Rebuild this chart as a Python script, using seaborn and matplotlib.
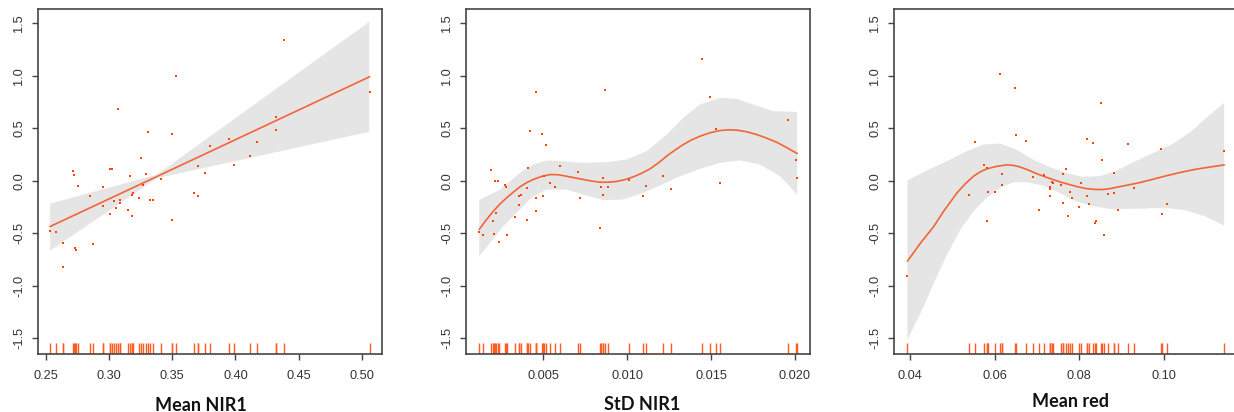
import numpy as np
import matplotlib
matplotlib.use("Agg")
import matplotlib.pyplot as plt
import seaborn as sns

# ---------------- data ----------------
# Panel 1: Mean NIR1
nir1_mean_x = [0.2537, 0.2577, 0.2637, 0.2637, 0.2714, 0.2722, 0.2730, 0.2740, 0.2756, 0.2849,
               0.2875, 0.2952, 0.2952, 0.3010, 0.3026, 0.3010, 0.3036, 0.3052, 0.3068, 0.3087,
               0.3087, 0.3153, 0.3163, 0.3179, 0.3190, 0.3179, 0.3240, 0.3256, 0.3266, 0.3290,
               0.3306, 0.3327, 0.3351, 0.3409, 0.3502, 0.3502, 0.3528, 0.3671, 0.3705, 0.3705,
               0.3758, 0.3798, 0.3946, 0.3985, 0.4112, 0.4170, 0.4323, 0.4323, 0.4382, 0.5061]
nir1_mean_resid = [-0.473, -0.486, -0.59, -0.825, 0.098, 0.057, -0.638, -0.66, -0.048, -0.14,
                   -0.60, -0.057, -0.241, 0.117, 0.117, -0.314, -0.19, -0.263, 0.683, -0.178,
                   -0.21, -0.276, 0.044, -0.137, -0.117, -0.333, -0.168, 0.219, -0.035, 0.067,
                   0.467, -0.178, -0.178, 0.016, 0.444, -0.375, 1.0, -0.117, -0.149, 0.137,
                   0.076, 0.333, 0.394, 0.149, 0.232, 0.371, 0.610, 0.486, 1.337, 0.844]
nir1_mean_fit_x = [0.2534, 0.338, 0.5062]
nir1_mean_fit_y = [-0.435, 0.042, 0.992]
nir1_mean_up_x = [0.2534, 0.338, 0.5058]
nir1_mean_up_y = [-0.217, 0.06, 1.514]
nir1_mean_lo_x = [0.2534, 0.338, 0.5058]
nir1_mean_lo_y = [-0.664, 0.025, 0.467]

# Panel 2: StD NIR1
nir1_std_x = [0.001146, 0.001424, 0.00186, 0.00198, 0.00206, 0.00212, 0.00218, 0.00230, 0.00236, 0.00270,
              0.00275, 0.00281, 0.00333, 0.00357, 0.00357, 0.00365, 0.00403, 0.00403, 0.00409, 0.00421,
              0.00454, 0.00454, 0.00454, 0.00492, 0.00498, 0.00504, 0.00516, 0.00538, 0.00568, 0.00601,
              0.00709, 0.00717, 0.00836, 0.00844, 0.00854, 0.00854, 0.00868, 0.00887, 0.01013, 0.01092,
              0.01112, 0.01213, 0.01263, 0.01448, 0.01493, 0.01529, 0.01551, 0.01958, 0.02008, 0.02014]
nir1_std_resid = [-0.486, -0.517, 0.108, -0.384, -0.508, -0.006, -0.302, 0.003, -0.581, -0.038,
                  -0.057, -0.517, -0.346, -0.14, -0.232, -0.13, -0.067, -0.375, 0.127, 0.476,
                  0.844, -0.159, -0.283, 0.444, -0.14, 0.048, 0.343, -0.025, -0.057, 0.14,
                  0.089, -0.168, -0.448, -0.057, 0.025, -0.13, 0.867, -0.057, 0.006, -0.14,
                  -0.048, 0.044, -0.076, 1.162, 0.794, 0.498, -0.016, 0.578, 0.2, 0.025]
nir1_std_fit_x = [0.00118, 0.00160, 0.00202, 0.00241, 0.00281, 0.00321, 0.00361, 0.00400, 0.00440,
                  0.00490, 0.00540, 0.00590, 0.00639, 0.00689, 0.00739, 0.00788, 0.00838, 0.00887,
                  0.00937, 0.00987, 0.01037, 0.01086, 0.01136, 0.01186, 0.01235, 0.01285, 0.01335,
                  0.01384, 0.01434, 0.01494, 0.01553, 0.01603, 0.01653, 0.01712, 0.01772, 0.01831,
                  0.01891, 0.01952, 0.02014]
nir1_std_fit_y = [-0.463, -0.372, -0.289, -0.222, -0.162, -0.108, -0.057, -0.018, 0.013,
                  0.042, 0.060, 0.058, 0.044, 0.028, 0.013, -0.002, -0.013, -0.013,
                  -0.006, 0.012, 0.038, 0.072, 0.114, 0.170, 0.235, 0.293, 0.346,
                  0.390, 0.425, 0.458, 0.479, 0.486, 0.483, 0.468, 0.441, 0.407,
                  0.368, 0.316, 0.260]
nir1_std_up_x = [0.00118, 0.00242, 0.00361, 0.00440, 0.00520, 0.00619, 0.00739, 0.00878, 0.00997, 0.01116,
                 0.01235, 0.01335, 0.01434, 0.01553, 0.01653, 0.01752, 0.01871, 0.02014]
nir1_std_up_y = [-0.184, -0.083, 0.076, 0.156, 0.194, 0.187, 0.171, 0.178, 0.203, 0.282,
                 0.441, 0.600, 0.727, 0.790, 0.781, 0.727, 0.663, 0.657]
nir1_std_lo_x = [0.00118, 0.00182, 0.00262, 0.00341, 0.00440, 0.00520, 0.00639, 0.00739, 0.00858, 0.00977,
                 0.01096, 0.01196, 0.01315, 0.01434, 0.01553, 0.01672, 0.01792, 0.01911, 0.02014]
nir1_std_lo_y = [-0.717, -0.590, -0.432, -0.305, -0.146, -0.083, -0.083, -0.130, -0.184, -0.178,
                 -0.114, -0.044, 0.044, 0.114, 0.171, 0.194, 0.156, 0.044, -0.130]

# Panel 3: Mean red
red_mean_x = [0.03945, 0.05392, 0.05541, 0.05752, 0.05815, 0.05823, 0.05846, 0.06018, 0.0612, 0.06175,
              0.06175, 0.06472, 0.06496, 0.06746, 0.06918, 0.07051, 0.07168, 0.07301, 0.07317, 0.07301,
              0.07364, 0.07379, 0.07567, 0.07622, 0.07622, 0.07677, 0.07732, 0.07779, 0.07833, 0.08005,
              0.08052, 0.08177, 0.08177, 0.08232, 0.08334, 0.08381, 0.08404, 0.08506, 0.0853, 0.08584,
              0.08678, 0.08811, 0.08827, 0.08905, 0.09155, 0.0928, 0.09938, 0.09961, 0.10063, 0.11424]
red_mean_resid = [-0.908, -0.13, 0.371, 0.149, 0.124, -0.384, -0.108, -0.108, 1.019, 0.067,
                  -0.038, 0.886, 0.435, 0.381, 0.035, -0.276, 0.06, -0.076, -0.057, -0.14,
                  -0.013, -0.025, -0.035, 0.067, -0.21, 0.117, -0.333, -0.108, -0.159, -0.251,
                  -0.025, -0.149, 0.403, -0.219, 0.365, -0.403, -0.384, 0.743, 0.2, -0.517,
                  -0.127, -0.117, 0.076, -0.276, 0.352, -0.067, 0.302, -0.314, -0.219, 0.283]
red_mean_fit_x = [0.03945, 0.04258, 0.0457, 0.0480, 0.05115, 0.05310, 0.05504, 0.05660, 0.05816, 0.06050,
                  0.06284, 0.06440, 0.06596, 0.06790, 0.06985, 0.07180, 0.07375, 0.07570, 0.07764,
                  0.07960, 0.08154, 0.08350, 0.08544, 0.08740, 0.08933, 0.09170, 0.09401, 0.09640,
                  0.09869, 0.1010, 0.1034, 0.1057, 0.108, 0.1111, 0.1142]
red_mean_fit_y = [-0.765, -0.590, -0.432, -0.289, -0.114, -0.028, 0.044, 0.085, 0.114, 0.138,
                  0.152, 0.148, 0.133, 0.104, 0.070, 0.040, 0.013, -0.013, -0.035,
                  -0.056, -0.073, -0.081, -0.083, -0.073, -0.057, -0.038, -0.019, 0.005,
                  0.029, 0.053, 0.076, 0.096, 0.114, 0.133, 0.152]
red_mean_up_x = [0.03945, 0.04412, 0.0488, 0.05347, 0.05738, 0.06128, 0.06517, 0.06907, 0.07297, 0.07686,
                 0.08076, 0.08466, 0.08855, 0.09245, 0.09713, 0.1018, 0.1065, 0.1104, 0.1142]
red_mean_up_y = [0.005, 0.102, 0.187, 0.282, 0.346, 0.356, 0.298, 0.203, 0.133, 0.076,
                 0.038, 0.044, 0.092, 0.171, 0.260, 0.346, 0.473, 0.616, 0.743]
red_mean_lo_x = [0.03945, 0.04258, 0.0457, 0.0488, 0.05193, 0.05504, 0.05816, 0.06128, 0.0644, 0.06752,
                 0.07142, 0.07532, 0.07922, 0.08311, 0.08701, 0.09091, 0.09558, 0.1002, 0.1049, 0.1096, 0.1142]
red_mean_lo_y = [-1.511, -1.257, -0.971, -0.702, -0.463, -0.289, -0.162, -0.067, -0.013, -0.013,
                 -0.044, -0.114, -0.194, -0.241, -0.267, -0.267, -0.264, -0.257, -0.279, -0.336, -0.425]

x_labels = ["Mean NIR1", "StD NIR1", "Mean red"]
x_ticks = [[0.25, 0.30, 0.35, 0.40, 0.45, 0.50],
           [0.005, 0.010, 0.015, 0.020],
           [0.04, 0.06, 0.08, 0.10]]
x_tick_labels = [["0.25", "0.30", "0.35", "0.40", "0.45", "0.50"],
                 ["0.005", "0.010", "0.015", "0.020"],
                 ["0.04", "0.06", "0.08", "0.10"]]
y_ticks = [-1.5, -1.0, -0.5, 0.0, 0.5, 1.0, 1.5]
y_tick_labels = ["-1.5", "-1.0", "-0.5", "0.0", "0.5", "1.0", "1.5"]

# ---------------- styling ----------------
sns.set_theme(style="white")
plt.rcParams["font.family"] = ["Liberation Sans", "DejaVu Sans"]

POINT = "#FF4500"
LINE = "#F36436"
RUG = "#FF5A1F"
BAND = "#E5E5E5"
AXC = "#444444"

fig = plt.figure(figsize=(12.34, 4.12), dpi=100)
positions = [[0.03055, 0.140, 0.2793, 0.838],
             [0.3776, 0.140, 0.2788, 0.838],
             [0.7242, 0.140, 0.2792, 0.838]]
xlims = [(0.2436, 0.5162), (0.00039, 0.0209), (0.0362, 0.1175)]
label_coords = [(0.474, -0.164), (0.511, -0.161), (0.514, -0.154)]

panels = [
    (nir1_mean_x, nir1_mean_resid, nir1_mean_fit_x, nir1_mean_fit_y,
     nir1_mean_up_x, nir1_mean_up_y, nir1_mean_lo_x, nir1_mean_lo_y),
    (nir1_std_x, nir1_std_resid, nir1_std_fit_x, nir1_std_fit_y,
     nir1_std_up_x, nir1_std_up_y, nir1_std_lo_x, nir1_std_lo_y),
    (red_mean_x, red_mean_resid, red_mean_fit_x, red_mean_fit_y,
     red_mean_up_x, red_mean_up_y, red_mean_lo_x, red_mean_lo_y),
]

for i, (px, py, fx, fy, ux, uy, lx, ly) in enumerate(panels):
    ax = fig.add_axes(positions[i])
    # confidence band
    ax.fill(np.r_[ux, lx[::-1]], np.r_[uy, ly[::-1]], color=BAND, lw=0, zorder=1)
    # smooth
    sns.lineplot(x=fx, y=fy, ax=ax, color=LINE, lw=1.2, zorder=3)
    # partial residuals
    sns.scatterplot(x=px, y=py, ax=ax, color=POINT, s=4.5, marker="s",
                    linewidth=0, zorder=4)
    # rug
    sns.rugplot(x=px, ax=ax, height=0.032, color=RUG, lw=1.0, zorder=2)

    ax.set_xlim(*xlims[i])
    ax.set_ylim(-1.652, 1.636)
    ax.set_xticks(x_ticks[i])
    ax.set_xticklabels(x_tick_labels[i])
    ax.set_yticks(y_ticks)
    ax.set_yticklabels(y_tick_labels, rotation=90, va="center")
    ax.tick_params(axis="both", direction="out", length=4.5, width=1.0,
                   color=AXC, labelcolor="#333333", labelsize=9.2,
                   left=True, bottom=True)
    ax.tick_params(axis="x", pad=7)
    ax.tick_params(axis="y", pad=4.5)
    for sp in ax.spines.values():
        sp.set_visible(True)
        sp.set_color(AXC)
        sp.set_linewidth(1.2)
    ax.set_ylabel("")
    ax.set_xlabel(x_labels[i], family=["Lato", "DejaVu Sans"], fontweight="bold",
                  fontsize=13, color="#111111")
    ax.xaxis.set_label_coords(*label_coords[i])
    ax.xaxis.label.set_va("baseline")
    ax.grid(False)

fig.savefig("out.png", dpi=100)
